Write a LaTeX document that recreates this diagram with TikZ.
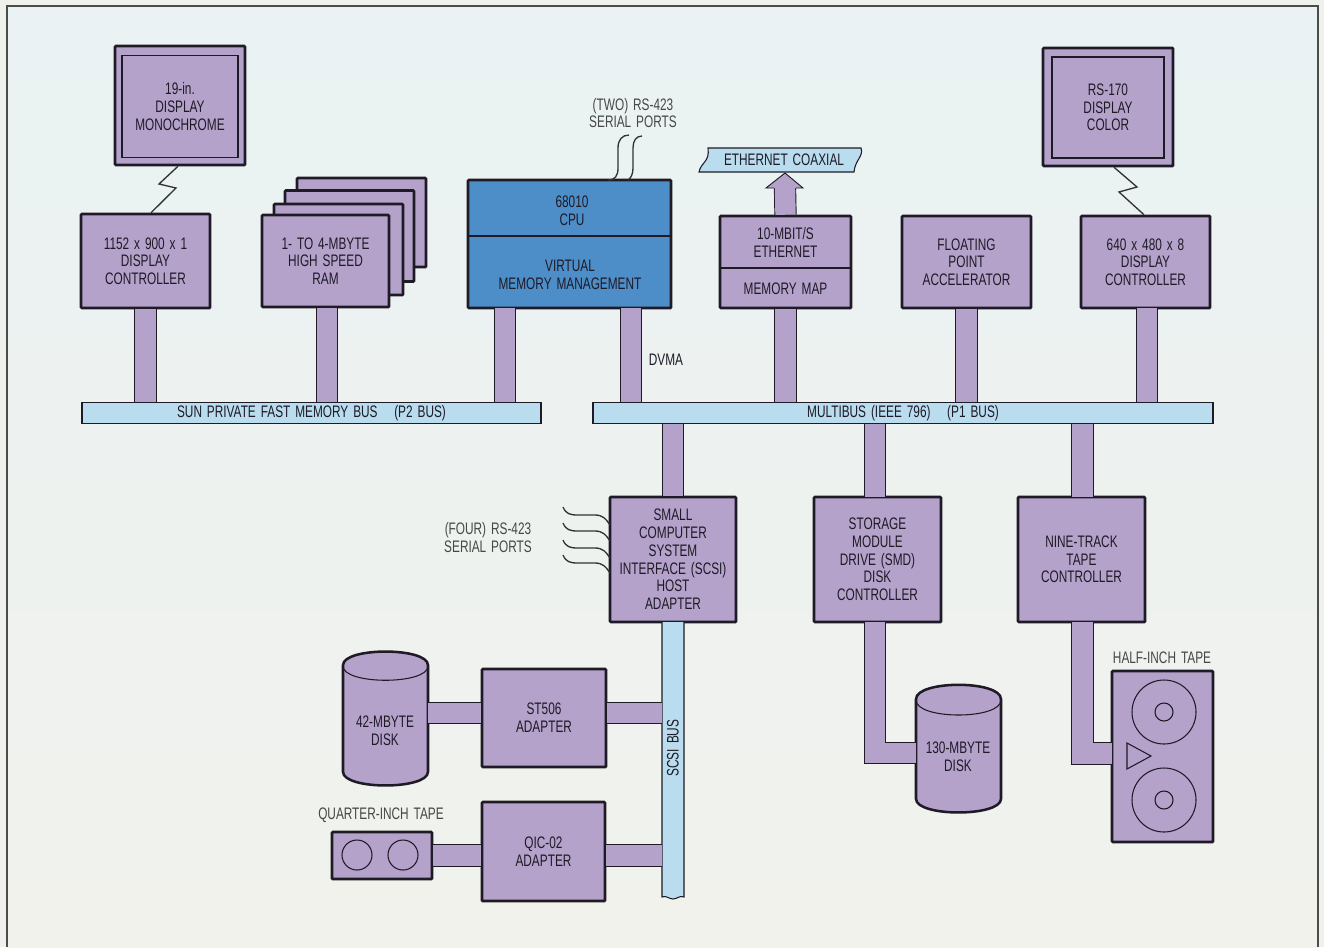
\documentclass[tikz,border=0pt]{standalone}
\usepackage{fontspec}
\setmainfont[FakeStretch=0.71,WordSpace=1.5]{Liberation Sans}
\usepackage{tikz}
\def\px{.75pt}
\definecolor{paper}{HTML}{EFF1EC}
\definecolor{paneltop}{HTML}{EAF2F3}
\definecolor{panelfoot}{HTML}{F1F2EC}
\definecolor{lilac}{HTML}{B5A2CB}
\definecolor{cpublue}{HTML}{4E8EC8}
\definecolor{busblue}{HTML}{B9DDEE}
\definecolor{inkdark}{HTML}{1E1A26}
\tikzset{
    sized/.style 2 args={minimum width=#1*\px, minimum height=#2*\px},
    txt/.style={font=\fontsize{12.5}{13.3}\selectfont, align=center, text=inkdark, inner sep=0pt},
    lbl/.style={txt, text=black!72},
    box/.style={txt, draw=inkdark, fill=lilac, line width=1.9pt, rounded corners=.6pt},
    inbox/.style={txt, draw=inkdark, line width=.8pt},
    bus/.style={txt, draw=inkdark, fill=busblue, line width=.8pt},
    stem/.style={draw=inkdark, line width=.7pt, double=lilac, double distance=15.3pt},
    wire/.style={draw=black!80, line width=1pt},
    thinline/.style={draw=inkdark, line width=.8pt},
}
\begin{document}
\begin{tikzpicture}[x=.75pt, y=-.75pt]
    \path[use as bounding box, fill=paper] (0,0) rectangle (1324,947);
    \path[top color=paneltop, bottom color=panelfoot] (7,947) -- (7,6) -- (1318,6) -- (1318,947);
    \draw[black!70, line width=2pt] (7,947) -- (7,6) -- (1318,6) -- (1318,947);

    % buses
    \node[bus, sized={459}{21.5}] (membus) at (311.5,412.8) {SUN PRIVATE FAST MEMORY BUS\quad(P2 BUS)};
    \node[bus, sized={620}{21.5}] (multibus) at (903,412.8) {MULTIBUS (IEEE 796)\quad(P1 BUS)};

    % top row
    \node[box, sized={130}{119}] (monA) at (180,105.5) {};
    \node[inbox, sized={116}{102}] (monAin) at (180,106.5) {19-in.\\DISPLAY\\MONOCHROME};
    \node[box, sized={129}{94}] (dispA) at (145.5,261) {1152 x 900 x 1\\DISPLAY\\CONTROLLER};

    \node[box, sized={129}{89}] (ramD) at (361.5,222.5) {};
    \node[box, sized={129}{91}] (ramC) at (349.5,236) {};
    \node[box, sized={129}{91}] (ramB) at (338.5,249.5) {};
    \node[box, sized={127}{92}] (ramA) at (325.5,261) {1- TO 4-MBYTE\\HIGH SPEED\\RAM};

    \node[box, fill=cpublue, sized={203}{128}] (cpu) at (569.5,244) {};
    \draw[thinline] (cpu.west |- 0,236) -- (cpu.east |- 0,236);
    \node[txt] (cpuA) at (572,211) {68010\\CPU};
    \node[txt] (cpuB) at (570,274.5) {VIRTUAL\\MEMORY MANAGEMENT};

    \node[box, sized={131}{92}] (ether) at (785.5,262) {};
    \draw[thinline] (ether.west |- 0,268) -- (ether.east |- 0,268);
    \node[txt] (etherA) at (785.5,242.5) {10-MBIT/S\\ETHERNET};
    \node[txt] (etherB) at (785.5,289) {MEMORY MAP};

    \node[box, sized={129}{92}] (fpa) at (966.5,262) {FLOATING\\POINT\\ACCELERATOR};
    \node[box, sized={129}{92}] (dispB) at (1145.5,262) {640 x 480 x 8\\DISPLAY\\CONTROLLER};
    \node[box, sized={130}{118}] (monB) at (1108,107) {};
    \node[inbox, sized={112}{101}] (monBin) at (1108,107.5) {RS-170\\DISPLAY\\COLOR};

    % lower row
    \node[box, sized={126}{125}] (scsi) at (673,559.5) {SMALL\\COMPUTER\\SYSTEM\\INTERFACE (SCSI)\\HOST\\ADAPTER};
    \node[box, sized={127}{125}] (smd) at (877.5,559.5) {STORAGE\\MODULE\\DRIVE (SMD)\\DISK\\CONTROLLER};
    \node[box, sized={127}{125}] (nine) at (1081.5,559.5) {NINE-TRACK\\TAPE\\CONTROLLER};
    \node[box, sized={124}{98}] (stA) at (544,718) {ST506\\ADAPTER};
    \node[box, sized={123}{99}] (qic) at (543.5,851.5) {QIC-02\\ADAPTER};

    % scsi bus
    \draw[draw=inkdark, fill=busblue, line width=.8pt] (662,622) -- (662,897) .. controls (666,895) and (669,899) .. (673,899) .. controls (677,899) and (680,895) .. (684,897) -- (684,622);
    \node[lbl, rotate=90, text=inkdark] (scsibus) at (673,748) {SCSI BUS};
    \coordinate (scsiEdge) at (662,622);

    % disks and tapes
    \draw[box] (343,666) .. controls (343,647) and (428,647) .. (428,666) -- (428,771) .. controls (428,790) and (343,790) .. (343,771) -- cycle;
    \draw[thinline] (343,666) .. controls (343,685) and (428,685) .. (428,666);
    \node[txt] (diskA) at (385,731) {42-MBYTE\\DISK};
    \coordinate (diskAedge) at (428,713);

    \draw[box] (916,700) .. controls (916,680) and (1001,680) .. (1001,700) -- (1001,798) .. controls (1001,817) and (916,817) .. (916,798) -- cycle;
    \draw[thinline] (916,700) .. controls (916,720) and (1001,720) .. (1001,700);
    \node[txt] (diskB) at (958,757) {130-MBYTE\\DISK};
    \coordinate (diskBedge) at (916,753);

    \node[box, sized={100}{47}] (tapeQ) at (382,855.5) {};
    \draw[thinline] (357,855) circle [radius=15];
    \draw[thinline] (403,855) circle [radius=15];
    \node[lbl] (tapeQtxt) at (381,815) {QUARTER-INCH TAPE};

    \node[box, sized={101}{171}] (tapeH) at (1162.5,756.5) {};
    \draw[thinline] (1164,712) circle [radius=32];
    \draw[thinline] (1164,712) circle [radius=9];
    \draw[thinline] (1164,800) circle [radius=32];
    \draw[thinline] (1164,800) circle [radius=9];
    \draw[thinline] (1127,743) -- (1151,756) -- (1127,769) -- cycle;
    \node[lbl] (tapeHtxt) at (1162,658) {HALF-INCH TAPE};
    \coordinate (tapeHedge) at (1112,753.5);

    % labels
    \node[lbl] (twoports) at (633,113) {(TWO) RS-423\\SERIAL PORTS};
    \node[lbl] (fourports) at (488,537.5) {(FOUR) RS-423\\SERIAL PORTS};
    \node[txt] (dvma) at (666,360) {DVMA};

    % ethernet coaxial
    \draw[draw=inkdark, fill=busblue, line width=.8pt] (708,148) -- (861,148) .. controls (864,156) and (855,160) .. (854,172) -- (699,172) .. controls (701,162) and (710,162) .. (708,148) -- cycle;
    \node[txt] (coax) at (784,160) {ETHERNET COAXIAL};
    \coordinate (coaxFoot) at (785,188);

    % connectors
    \draw[stem] (dispA.south) -- (dispA.south |- membus.north);
    \coordinate (ramFoot) at (327,308);
    \draw[stem] (ramFoot) -- (ramFoot |- membus.north);
    \coordinate (cpuFootA) at (505,308);
    \coordinate (cpuFootB) at (631,308);
    \draw[stem] (cpuFootA) -- (cpuFootA |- membus.north);
    \draw[stem] (cpuFootB) -- (cpuFootB |- multibus.north);
    \draw[stem] (ether.south) -- (ether.south |- multibus.north);
    \draw[stem] (fpa.south) -- (fpa.south |- multibus.north);
    \coordinate (dispBfoot) at (1147,308);
    \draw[stem] (dispBfoot) -- (dispBfoot |- multibus.north);

    \draw[stem] (ether.north) -- (coaxFoot);
    \draw[draw=inkdark, fill=lilac, line width=.7pt] (774,188) -- (766,188) -- (785,173) -- (803,188) -- (796,188);

    \draw[stem] (scsi.north) -- (scsi.north |- multibus.south);
    \coordinate (smdTop) at (875,497);
    \draw[stem] (smdTop) -- (smdTop |- multibus.south);
    \coordinate (nineTop) at (1082.5,497);
    \draw[stem] (nineTop) -- (nineTop |- multibus.south);

    \coordinate (smdFoot) at (875,622);
    \draw[stem] (smdFoot) -- (smdFoot |- diskBedge) -- (diskBedge);
    \coordinate (nineFoot) at (1082.5,622);
    \draw[stem] (nineFoot) -- (nineFoot |- tapeHedge) -- (tapeHedge);

    \draw[stem] (diskAedge) -- (stA.west |- diskAedge);
    \draw[stem] (stA.east |- diskAedge) -- (scsiEdge |- diskAedge);
    \draw[stem] (tapeQ.east) -- (qic.west |- tapeQ.east);
    \draw[stem] (qic.east |- tapeQ.east) -- (scsiEdge |- tapeQ.east);

    % wires
    \draw[wire] ([xshift=-2*\px]monA.south) -- (159,184) -- (176,188) -- ([xshift=5.5*\px]dispA.north);
    \draw[wire] ([xshift=6*\px]monB.south) -- (1137,187) -- (1119,192) -- ([xshift=-1.5*\px]dispB.north);

    \draw[wire] (608,180) .. controls (615,180) and (618,176) .. (618,168) -- (618,148) .. controls (618,140) and (622,135) .. (629,135);
    \draw[wire] (628,180) .. controls (631,178) and (633,174) .. (633,168) -- (633,148) .. controls (633,141) and (636,136) .. (642,136);
    \foreach \y in {0,16,33,48} {
        \draw[wire] (563,507+\y) .. controls (566,514+\y) and (570,515+\y) .. (578,515+\y) -- (595,515+\y) .. controls (603,515+\y) and (606,519+\y) .. (610,525+\y);
    }
\end{tikzpicture}
\end{document}
